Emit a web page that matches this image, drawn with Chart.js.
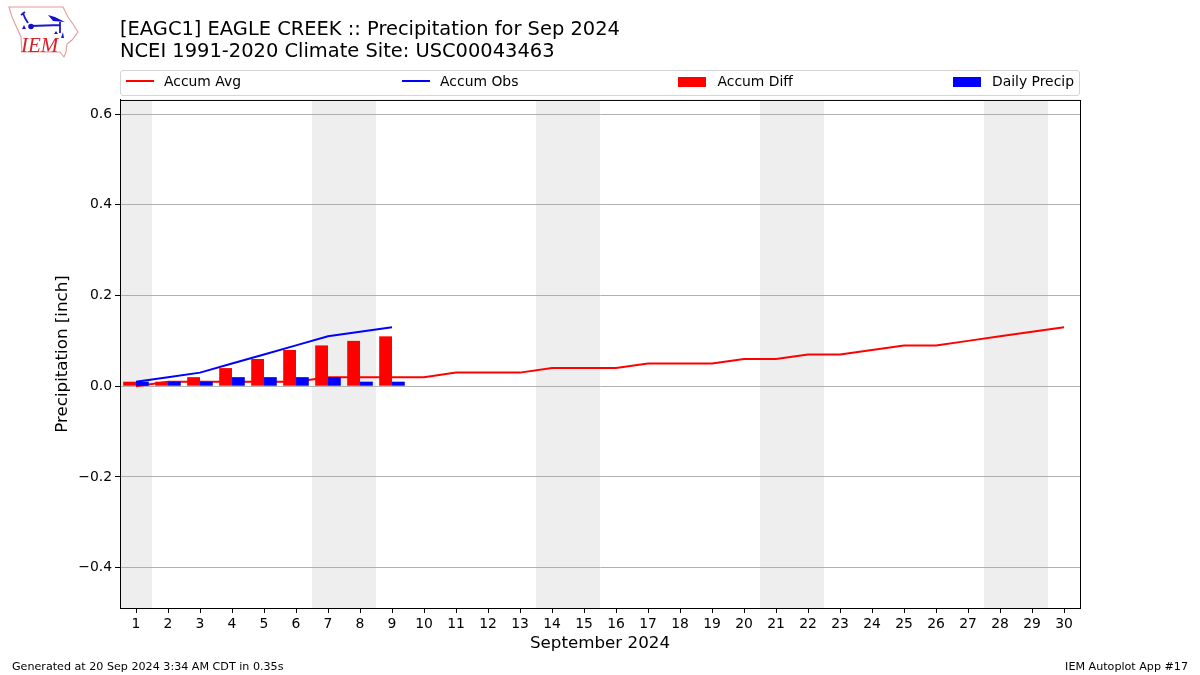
<!DOCTYPE html>
<html>
<head>
<meta charset="utf-8">
<script src="https://cdn.jsdelivr.net/npm/chart.js@4/dist/chart.umd.min.js"></script>
<style>
body { margin: 0; background: #fff; font-family: "DejaVu Sans", sans-serif; }
#wrap { position: relative; width: 1200px; height: 675px; overflow: hidden; }
#legend { position: absolute; left: 120px; top: 70px; width: 958px; height: 24px; border: 1px solid #d4d4d4; border-radius: 3px;
  background: #fff; display: flex; justify-content: space-between; align-items: center; font-size: 13.9px; color: #000; padding: 0; box-sizing: content-box; }
#legend .item { display: flex; align-items: center; margin: 0 5px; line-height: 20px; position: relative; top: -2px; }
#legend .key { display: inline-block; width: 28px; margin-right: 10px; }
#legend .key.box { margin-left: -1px; margin-right: 11px; position: relative; top: 1px; }
.foot { position: absolute; top: 660px; font-size: 11.13px; color: #000; white-space: nowrap; }
#logo { position: absolute; left: 0; top: 0; }
</style>
</head>
<body>
<div id="wrap">
<canvas id="myChart" width="1200" height="675"></canvas>
<div id="legend"></div>
<svg id="logo" width="80" height="60" viewBox="0 0 80 60">
  <path d="M9 7 L63 7 L68 17 L73 24 L78 32 L72 40 L67 44 L66 52 L64 57 L60 52 L22 52 L21 37 L12 17 Z" fill="#fff" stroke="#e89a9a" stroke-width="1.1"/>
  <path d="M31 26 L60 25 M60 22 L60 33 M21 15 L25 12 M23 13 L25 18 L28 23" fill="none" stroke="#1a1acc" stroke-width="1.8"/>
  <circle cx="31" cy="26.5" r="2.8" fill="#1212cc"/>
  <path d="M48 15 L55 17 L65 22 L53 21 Z" fill="#1212cc"/>
  <path d="M24 25 l2 4 h-4 Z M56 31 l2 3 h-4 Z M63 32 l1 6 h-3 Z" fill="#1a1acc"/>
  <text x="21" y="52" font-family="Liberation Serif" font-style="italic" font-size="21" fill="#d8232a">IEM</text>
</svg>
<div class="foot" style="left:12px">Generated at 20 Sep 2024 3:34 AM CDT in 0.35s</div>
<div class="foot" style="right:12px">IEM Autoplot App #17</div>
</div>
<script>
const days = ['1','2','3','4','5','6','7','8','9','10','11','12','13','14','15','16','17','18','19','20','21','22','23','24','25','26','27','28','29','30'];
const accumAvg = [0,0.01,0.01,0.01,0.01,0.01,0.02,0.02,0.02,0.02,0.03,0.03,0.03,0.04,0.04,0.04,0.05,0.05,0.05,0.06,0.06,0.07,0.07,0.08,0.09,0.09,0.10,0.11,0.12,0.13];
const accumObs = [0.01,0.02,0.03,0.05,0.07,0.09,0.11,0.12,0.13];
const accumDiff = [0.01,0.01,0.02,0.04,0.06,0.08,0.09,0.10,0.11];
const dailyPrecip = [0.01,0.01,0.01,0.02,0.02,0.02,0.02,0.01,0.01];
const weekendDays = [1,7,8,14,15,21,22,28,29];
const yTicks = [-0.4,-0.2,0,0.2,0.4,0.6];
const titleLines = ['[EAGC1] EAGLE CREEK :: Precipitation for Sep 2024','NCEI 1991-2020 Climate Site: USC00043463'];

const fontName = '"DejaVu Sans"';

// grey weekend bands + the box around the plot
const bandsPlugin = {
    id: 'bands',
    beforeDraw(chart) {
        const {ctx, chartArea, scales} = chart;
        ctx.save();
        ctx.fillStyle = '#eeeeee';
        weekendDays.forEach(d => {
            const x0 = scales.x.getPixelForValue(d - 1.5);
            const x1 = scales.x.getPixelForValue(d - 0.5);
            ctx.fillRect(x0, chartArea.top, x1 - x0, chartArea.height);
        });
        ctx.restore();
    },
    afterDraw(chart) {
        const {ctx, chartArea} = chart;
        ctx.save();
        ctx.strokeStyle = '#000';
        ctx.lineWidth = 1;
        ctx.strokeRect(chartArea.left + 0.5, chartArea.top + 0.5, chartArea.width, chartArea.height);
        ctx.restore();
    }
};

const ctx = document.getElementById('myChart').getContext('2d');
const myChart = new Chart(ctx, {
    type: 'bar',
    plugins: [bandsPlugin],
    data: {
        labels: days,
        datasets: [
            {type: 'line', label: 'Accum Avg', data: accumAvg, borderColor: '#ff0000', backgroundColor: '#ff0000', borderWidth: 2, pointRadius: 0, tension: 0, order: 3},
            {type: 'line', label: 'Accum Obs', data: accumObs, borderColor: '#0000ff', backgroundColor: '#0000ff', borderWidth: 2, pointRadius: 0, tension: 0, order: 0},
            {label: 'Accum Diff', data: accumDiff, backgroundColor: '#ff0000', categoryPercentage: 0.8, barPercentage: 1, order: 1},
            {label: 'Daily Precip', data: dailyPrecip, backgroundColor: '#0000ff', categoryPercentage: 0.8, barPercentage: 1, order: 2}
        ]
    },
    options: {
        responsive: false,
        animation: false,
        layout: {padding: {left: 0, right: 120, top: 0, bottom: 0}},
        plugins: {
            legend: {display: false},
            tooltip: {enabled: false},
            title: {
                display: true,
                text: titleLines,
                align: 'start',
                fullSize: false,
                color: '#000',
                font: {family: fontName, size: 19.45, weight: 'normal', lineHeight: 1.13},
                padding: {top: 19, bottom: 37}
            }
        },
        scales: {
            x: {
                title: {display: true, text: 'September 2024', color: '#000', font: {family: fontName, size: 16.7}, padding: {top: 0, bottom: 21}},
                ticks: {color: '#000', font: {family: fontName, size: 13.9}, maxRotation: 0, autoSkip: false, padding: 3},
                grid: {offset: false, drawOnChartArea: false, tickColor: '#000', tickLength: 5},
                border: {color: '#000'},
                afterFit(scale) { scale.height = 67; }
            },
            y: {
                min: -0.4891,
                max: 0.6313,
                title: {display: true, text: 'Precipitation [inch]', color: '#000', font: {family: fontName, size: 16.7}, padding: {top: 53, bottom: 0}},
                ticks: {color: '#000', font: {family: fontName, size: 13.9}, padding: 3, callback: v => (v < 0 ? '\u2212' + Math.abs(v).toFixed(1) : v.toFixed(1))},
                afterBuildTicks(scale) { scale.ticks = yTicks.map(v => ({value: v})); },
                grid: {color: '#b0b0b0', tickColor: '#000', tickLength: 5},
                border: {color: '#000'},
                afterFit(scale) { scale.width = 120; }
            }
        }
    }
});

// legend row, spread out across the box like the original
const legendItems = myChart.data.datasets.map(ds => ({label: ds.label, color: ds.backgroundColor, isLine: ds.type === 'line'}));
document.getElementById('legend').innerHTML = legendItems.map(it =>
    `<span class="item"><span class="key${it.isLine ? '' : ' box'}" style="height:${it.isLine ? 2 : 10}px;background:${it.color}"></span>${it.label}</span>`
).join('');
</script>
</body>
</html>
